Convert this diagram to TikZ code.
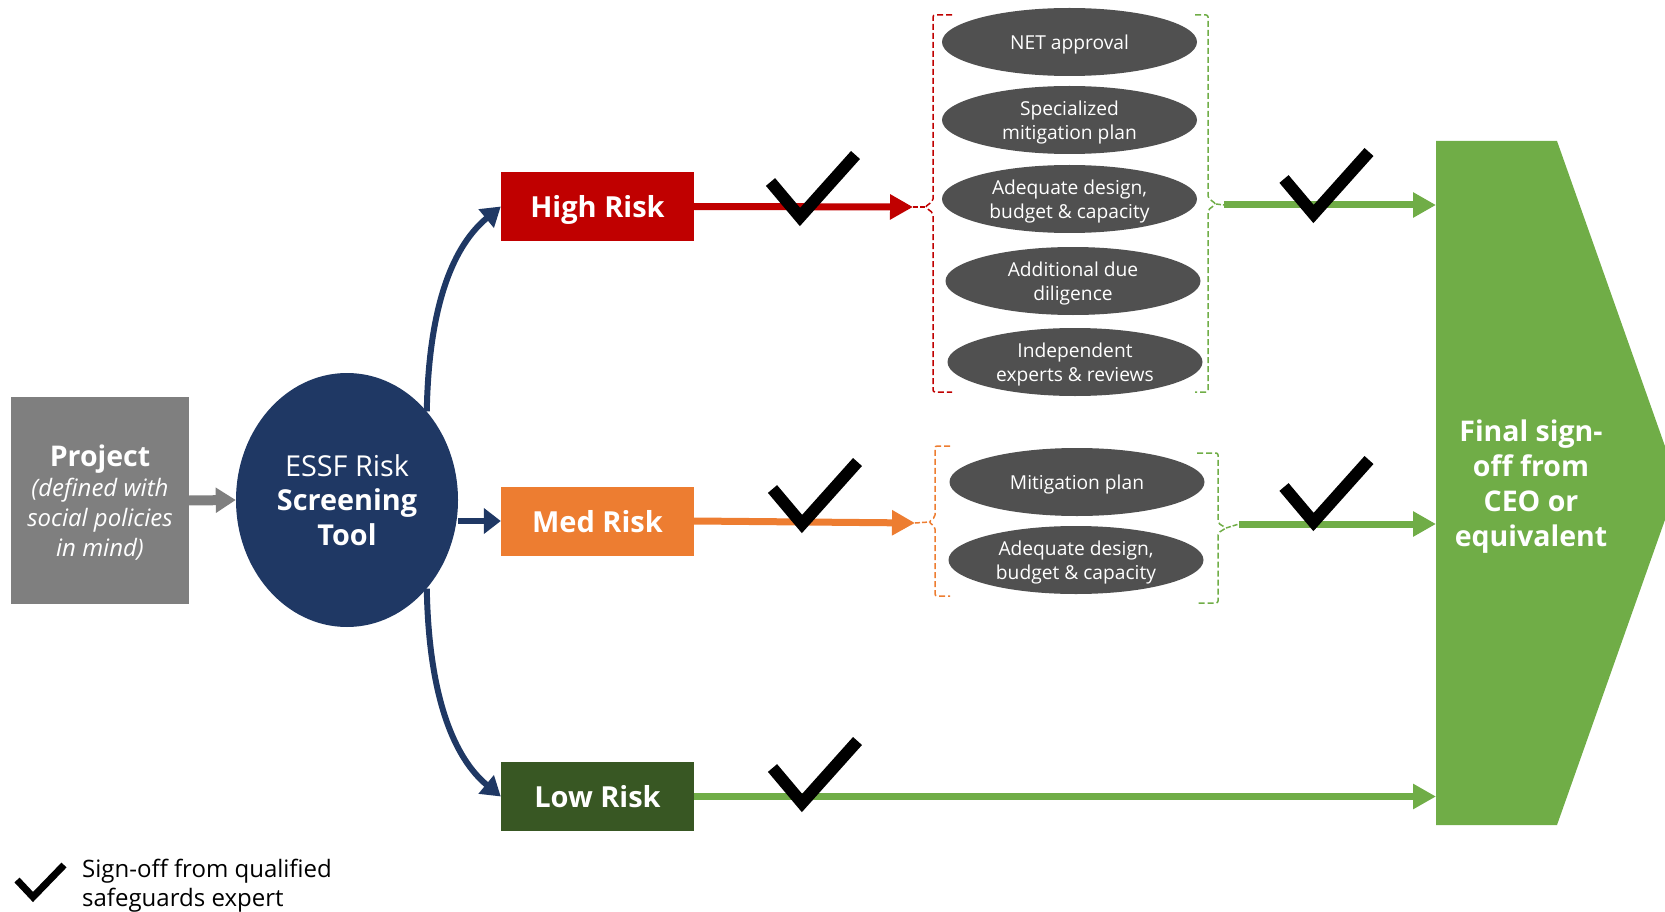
\documentclass[tikz,border=0pt]{standalone}
\usepackage{fontspec}
\setmainfont{Open Sans}
\usetikzlibrary{arrows.meta,shapes.geometric}
\definecolor{navy}{RGB}{31,56,100}
\definecolor{hred}{RGB}{192,0,0}
\definecolor{orng}{RGB}{237,125,49}
\definecolor{dgreen}{RGB}{56,87,35}
\definecolor{lgreen}{RGB}{112,173,71}
\definecolor{pgray}{RGB}{127,127,127}
\definecolor{egray}{RGB}{80,80,80}
\tikzset{
  riskbox/.style={rectangle, minimum width=193pt, minimum height=69pt, inner sep=0pt, text depth=0pt, text=white, font=\fontsize{29}{34}\selectfont\bfseries},
  ovalitem/.style={ellipse, minimum width=255pt, minimum height=68pt, inner sep=0pt, text depth=0pt, fill=egray, text=white, align=center, font=\fontsize{19.2}{23.5}\selectfont},
  brk/.style={dash pattern=on 6pt off 3pt, line width=1.5pt, rounded corners=2pt},
  thinlink/.style={dash pattern=on 5pt off 2pt, line width=1.5pt},
  fatarrow/.style={line width=7pt, -{Triangle[length=23pt,width=24pt]}},
  navyarrow/.style={draw=navy, line width=6pt, -{Triangle[length=19pt,width=23pt]}},
  signmark/.pic={\draw[line width=12pt, miter limit=10, line cap=butt, line join=miter] (-29.5,-35) -- (0,0) -- (55.5,-62);}
}
\begin{document}
\begin{tikzpicture}[x=1pt,y=-1pt]
\useasboundingbox (0,0) rectangle (1665,912);
\clip (0,0) rectangle (1665,912);

% project and screening tool
\node[rectangle, fill=pgray, minimum width=178pt, minimum height=207pt, inner sep=0pt, text depth=0pt, text=white, align=center, font=\fontsize{24}{30}\selectfont] (proj) at (100,500.5)
  {{\fontsize{28.5}{30}\selectfont\bfseries Project}\\\itshape (defined with\\\itshape social policies\\\itshape in mind)};
\node[ellipse, fill=navy, minimum width=222pt, minimum height=254pt, inner sep=0pt, text=white, align=center, font=\fontsize{28.8}{34.5}\selectfont] (ess) at (347,500)
  {ESSF Risk\\\textbf{Screening}\\\textbf{Tool}};

% risk boxes
\node[riskbox, fill=hred] (high) at (597.5,206.5) {High Risk};
\node[riskbox, fill=orng] (med) at (597.5,521) {Med Risk};
\node[riskbox, fill=dgreen] (low) at (597.5,796.5) {Low Risk};

% requirement ovals
\node[ovalitem] (h1) at (1069.5,42) {NET approval};
\node[ovalitem] (h2) at (1069.5,120) {Specialized\\mitigation plan};
\node[ovalitem] (h3) at (1069.5,199) {Adequate design,\\budget \& capacity};
\node[ovalitem] (h4) at (1073,281) {Additional due\\diligence};
\node[ovalitem] (h5) at (1075,362) {Independent\\experts \& reviews};
\node[ovalitem] (m1) at (1077,482) {Mitigation plan};
\node[ovalitem] (m2) at (1076,560) {Adequate design,\\budget \& capacity};

% brackets
\draw[brk, draw=hred] (952,15) -- (933,15) -- (933,201) -- (925,207) -- (933,213) -- (933,392) -- (952,392);
\draw[brk, draw=lgreen] (1195,15) -- (1208,15) -- (1208,198) -- (1216,204) -- (1208,210) -- (1208,392) -- (1195,392);
\draw[brk, draw=orng] (950,446) -- (935,446) -- (935,517) -- (929,522) -- (935,527) -- (935,596) -- (950,596);
\draw[brk, draw=lgreen] (1197,453) -- (1218,453) -- (1218,523) -- (1226,528) -- (1218,533) -- (1218,603) -- (1197,603);

\coordinate (rnub) at (925,207);
\coordinate (rtip) at (913,207);
\coordinate (onub) at (929,522);
\coordinate (otip) at (915,523);
\coordinate (gnub1) at (1216,204);
\coordinate (gstart1) at (1224,205);
\coordinate (gnub2) at (1226,528);
\coordinate (gstart2) at (1239,524);

% final sign-off
\fill[lgreen] (1436,141) -- (1557,141) -- (1678,483) -- (1557,825) -- (1436,825) -- cycle;
\coordinate (fin) at (1436,483);
\node[text=white, align=center, inner sep=0pt, text depth=0pt, font=\fontsize{28.5}{35}\selectfont\bfseries] (final) at (1531,483)
  {Final sign-\\off from\\CEO or\\equivalent};

% connectors
\draw[line width=10pt, draw=pgray, -{Triangle[length=20pt,width=24pt]}] (proj.east) -- (ess.west);
\draw[navyarrow] (ess.48) .. controls +(2,-110) and +(-46,38) .. (high.west);
\draw[navyarrow] (ess.-48) .. controls +(2,110) and +(-46,-38) .. (low.west);
\draw[navyarrow, -{Triangle[length=17pt,width=25pt]}] (ess.east |- med.west) -- (med.west);

\draw[fatarrow, draw=hred] (high.east) -- (rtip);
\draw[thinlink, draw=hred] (rtip) -- (rnub);
\draw[fatarrow, draw=orng] (med.east) -- (otip);
\draw[thinlink, draw=orng] (otip) -- (onub);
\draw[thinlink, draw=lgreen] (gnub1) -- (gstart1);
\draw[fatarrow, draw=lgreen] (gstart1) -- (fin |- gstart1);
\draw[thinlink, draw=lgreen] (gnub2) -- (gstart2);
\draw[fatarrow, draw=lgreen] (gstart2) -- (fin |- gstart2);
\draw[fatarrow, draw=lgreen] (low.east) -- (fin |- low.east);

% sign-off marks
\pic at (800,217) {signmark};
\pic at (802,524) {signmark};
\pic at (802,803) {signmark};
\pic at (1313.5,214) {signmark};
\pic at (1313.5,522) {signmark};

% legend
\draw[line width=7pt, miter limit=10] (17,880) -- (33,897) -- (64,865);
\node[anchor=west, align=left, inner sep=0pt, text depth=0pt, font=\fontsize{24}{29}\selectfont] (legend) at (82,883)
  {Sign-off from qualified\\safeguards expert};
\end{tikzpicture}
\end{document}
